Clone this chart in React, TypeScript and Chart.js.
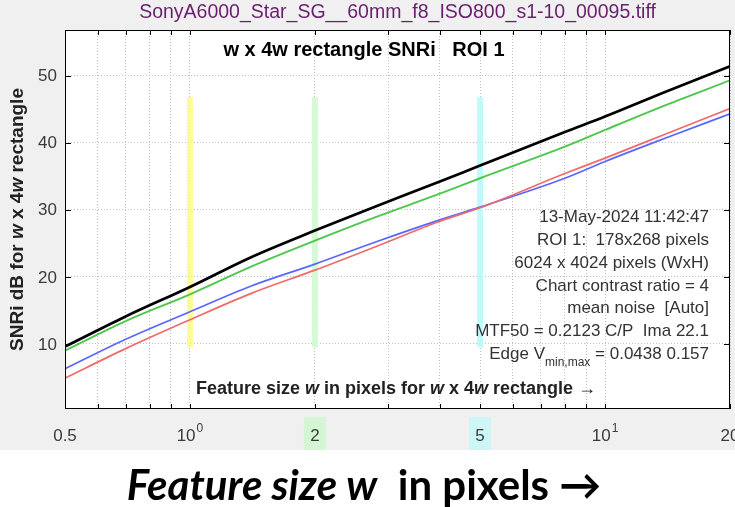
import React, { useEffect, useRef } from "react";
import { Chart, registerables } from "chart.js";
Chart.register(...registerables);

const featureSize = [0.5, 0.7, 1, 1.4, 2, 2.8, 4, 5, 8, 10, 14, 20];
const snrBlack = [9.6, 14.1, 18.5, 22.9, 26.9, 30.5, 34.2, 36.6, 41.6, 43.9, 47.6, 51.4];
const snrGreen = [9.0, 13.4, 17.4, 21.5, 25.4, 28.9, 32.4, 34.7, 39.4, 41.9, 45.6, 49.3];
const snrBlue = [6.3, 10.7, 14.8, 18.6, 21.9, 25.2, 28.5, 30.4, 34.7, 37.2, 40.7, 44.3];
const snrRed = [4.9, 9.3, 13.6, 17.5, 21.0, 24.5, 28.3, 30.3, 35.4, 37.7, 41.3, 45.1];

const xGridValues = [0.5, 0.6, 0.7, 0.8, 0.9, 1, 2, 3, 4, 5, 6, 7, 8, 9, 10, 20];
const yTickValues = [10, 20, 30, 40, 50];
const xLabelValues = [0.5, 1, 2, 5, 10, 20];
const xLabelBase = ["0.5", "10", "2", "5", "10", "20"];
const xLabelSup = ["", "0", "", "", "1", ""];
const xLabelBg = ["", "", "#d4f6d4", "#cdf6f6", "", ""];

const bandX = [1, 2, 5];
const bandColors = ["rgba(255,255,120,0.75)", "rgba(210,248,210,0.9)", "rgba(185,250,250,0.9)"];
const bandRange = [9.5, 46.8];

const titleText = "SonyA6000_Star_SG__60mm_f8_ISO800_s1-10_00095.tiff";
const innerTitle = "w x 4w rectangle SNRi   ROI 1";
const infoLines = [
  "13-May-2024 11:42:47",
  "ROI 1:  178x268 pixels",
  "6024 x 4024 pixels (WxH)",
  "Chart contrast ratio = 4",
  "mean noise  [Auto]",
  "MTF50 = 0.2123 C/P  Ima 22.1",
];
const edgeLine = ["Edge V", "min,max", " = 0.0438 0.157"];

type Seg = { t: string; italic?: boolean };

function drawSegs(
  ctx: CanvasRenderingContext2D,
  segs: Seg[],
  cx: number,
  cy: number,
  size: number,
  family: string,
  weight: string,
  color: string,
  align: "center" | "right" = "center",
  baseline: CanvasTextBaseline = "middle"
) {
  const fonts = segs.map((s) => `${s.italic ? "italic " : ""}${weight} ${size}px ${family}`);
  let total = 0;
  const widths = segs.map((s, i) => {
    ctx.font = fonts[i];
    const w = ctx.measureText(s.t).width;
    total += w;
    return w;
  });
  let x = align === "center" ? cx - total / 2 : cx - total;
  ctx.fillStyle = color;
  ctx.textBaseline = baseline;
  ctx.textAlign = "left";
  segs.forEach((s, i) => {
    ctx.font = fonts[i];
    ctx.fillText(s.t, x, cy);
    x += widths[i];
  });
}

const decor = {
  id: "decor",
  beforeDraw(chart: any) {
    const { ctx, width, height, chartArea } = chart;
    ctx.save();
    ctx.fillStyle = "#ffffff";
    ctx.fillRect(0, 0, width, height);
    ctx.fillStyle = "#f0f0f0";
    ctx.fillRect(0, 0, width, 450);
    ctx.fillStyle = "#ffffff";
    ctx.fillRect(chartArea.left, chartArea.top, chartArea.right - chartArea.left, chartArea.bottom - chartArea.top);
    ctx.restore();
  },
  beforeDatasetsDraw(chart: any) {
    const { ctx } = chart;
    const xs = chart.scales.x;
    const ys = chart.scales.y;
    ctx.save();
    bandX.forEach((v, i) => {
      const px = xs.getPixelForValue(v);
      const top = ys.getPixelForValue(bandRange[1]);
      const bot = ys.getPixelForValue(bandRange[0]);
      ctx.fillStyle = bandColors[i];
      ctx.fillRect(px - 3, top, 6, bot - top);
    });
    ctx.restore();
  },
  afterDraw(chart: any) {
    const { ctx, chartArea } = chart;
    const xs = chart.scales.x;
    const ys = chart.scales.y;
    const { left, right, top, bottom } = chartArea;
    ctx.save();
    ctx.strokeStyle = "#000";
    ctx.lineWidth = 1;
    ctx.strokeRect(left + 0.5, top + 0.5, right - left - 1, bottom - top - 1);
    ctx.beginPath();
    xGridValues.forEach((v) => {
      const px = Math.round(xs.getPixelForValue(v)) + 0.5;
      ctx.moveTo(px, bottom);
      ctx.lineTo(px, bottom - 5);
      ctx.moveTo(px, top);
      ctx.lineTo(px, top + 5);
    });
    yTickValues.forEach((v) => {
      const py = Math.round(ys.getPixelForValue(v)) + 0.5;
      ctx.moveTo(left, py);
      ctx.lineTo(left + 6, py);
      ctx.moveTo(right, py);
      ctx.lineTo(right - 6, py);
    });
    ctx.stroke();

    const fam = "'Liberation Sans', Arial, sans-serif";
    ctx.fillStyle = "#3a3a3a";
    ctx.font = `17px ${fam}`;
    ctx.textAlign = "right";
    ctx.textBaseline = "middle";
    yTickValues.forEach((v) => {
      ctx.fillText(String(v), left - 8, ys.getPixelForValue(v) + 1);
    });
    xLabelValues.forEach((v, i) => {
      const px = xs.getPixelForValue(v);
      if (xLabelBg[i]) {
        ctx.fillStyle = xLabelBg[i];
        ctx.fillRect(px - 11, 417, 22, 33);
      }
      ctx.font = `17px ${fam}`;
      const wb = ctx.measureText(xLabelBase[i]).width;
      ctx.font = `12px ${fam}`;
      const ws = xLabelSup[i] ? ctx.measureText(xLabelSup[i]).width + 1 : 0;
      const x0 = px - (wb + ws) / 2;
      ctx.fillStyle = "#3a3a3a";
      ctx.textAlign = "left";
      ctx.textBaseline = "middle";
      ctx.font = `17px ${fam}`;
      ctx.fillText(xLabelBase[i], x0, 436);
      if (xLabelSup[i]) {
        ctx.font = `12px ${fam}`;
        ctx.fillText(xLabelSup[i], x0 + wb + 1, 429);
      }
    });

    drawSegs(ctx, [{ t: titleText }], (left + right) / 2, 13, 19.5, fam, "normal", "#6a1f6e");
    drawSegs(ctx, [{ t: innerTitle }], 364, 50, 20, fam, "bold", "#000");
    drawSegs(
      ctx,
      [
        { t: "Feature size " },
        { t: "w", italic: true },
        { t: " in pixels for " },
        { t: "w", italic: true },
        { t: " x 4" },
        { t: "w", italic: true },
        { t: " rectangle \u2192" },
      ],
      396,
      389,
      18,
      fam,
      "bold",
      "#222"
    );

    ctx.save();
    ctx.translate(18, (top + bottom) / 2);
    ctx.rotate(-Math.PI / 2);
    drawSegs(
      ctx,
      [
        { t: "SNRi dB for " },
        { t: "w", italic: true },
        { t: " x 4" },
        { t: "w", italic: true },
        { t: " rectangle" },
      ],
      0,
      0,
      19,
      fam,
      "bold",
      "#222"
    );
    ctx.restore();

    infoLines.forEach((line, i) => {
      drawSegs(ctx, [{ t: line }], 709, 217.5 + i * 22.8, 17, fam, "normal", "#333", "right");
    });
    {
      const y = 217.5 + 6 * 22.8;
      ctx.font = `17px ${fam}`;
      const w1 = ctx.measureText(edgeLine[0]).width;
      const w3 = ctx.measureText(edgeLine[2]).width;
      ctx.font = `12px ${fam}`;
      const w2 = ctx.measureText(edgeLine[1]).width;
      let x = 709 - (w1 + w2 + w3);
      ctx.fillStyle = "#333";
      ctx.textAlign = "left";
      ctx.textBaseline = "middle";
      ctx.font = `17px ${fam}`;
      ctx.fillText(edgeLine[0], x, y);
      x += w1;
      ctx.font = `12px ${fam}`;
      ctx.fillText(edgeLine[1], x, y + 8);
      x += w2;
      ctx.font = `17px ${fam}`;
      ctx.fillText(edgeLine[2], x, y);
    }

    drawSegs(
      ctx,
      [{ t: "Feature size ", italic: true }, { t: "w", italic: true }, { t: "  in pixels \u2192" }],
      364,
      500,
      42,
      "Lato, 'Open Sans', sans-serif",
      "bold",
      "#000",
      "center",
      "alphabetic"
    );
    ctx.restore();
  },
};

export default function App() {
  const ref = useRef<HTMLCanvasElement | null>(null);
  useEffect(() => {
    document.body.style.margin = "0";
    const canvas = ref.current!;
    const mk = (data: number[], color: string, width: number) => ({
      data: featureSize.map((x, i) => ({ x, y: data[i] })),
      borderColor: color,
      borderWidth: width,
      pointRadius: 0,
      cubicInterpolationMode: "monotone",
      fill: false,
    });
    const chart = new Chart(canvas, {
      type: "line",
      data: {
        datasets: [
          mk(snrRed, "#f06a6a", 1.7),
          mk(snrBlue, "#5a66ff", 1.7),
          mk(snrGreen, "#4cc94c", 1.9),
          mk(snrBlack, "#000000", 2.7),
        ],
      },
      options: {
        animation: false,
        responsive: false,
        devicePixelRatio: 1,
        layout: { padding: { left: 65, right: 5, top: 30, bottom: 98 } },
        plugins: { legend: { display: false }, tooltip: { enabled: false } },
        scales: {
          x: {
            type: "logarithmic",
            min: 0.5,
            max: 20,
            afterBuildTicks: (axis: any) => {
              axis.ticks = xGridValues.map((value) => ({ value }));
            },
            ticks: { display: false },
            grid: { color: "#bdbdbd", drawTicks: false, lineWidth: 1 },
            border: { display: false, dash: [1, 2] },
          },
          y: {
            type: "linear",
            min: 0.3,
            max: 56.8,
            afterBuildTicks: (axis: any) => {
              axis.ticks = yTickValues.map((value) => ({ value }));
            },
            ticks: { display: false },
            grid: { color: "#bdbdbd", drawTicks: false, lineWidth: 1 },
            border: { display: false, dash: [1, 2] },
          },
        },
      },
      plugins: [decor],
    } as any);
    return () => chart.destroy();
  }, []);
  return <canvas ref={ref} width={735} height={507} style={{ display: "block" }} />;
}
